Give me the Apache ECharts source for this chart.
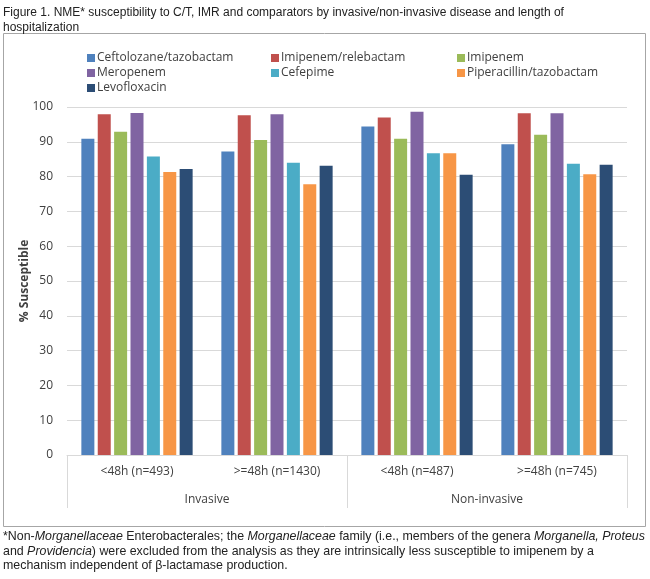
<!DOCTYPE html>
<html>
<head>
<meta charset="utf-8">
<script src="https://cdn.jsdelivr.net/npm/echarts@6/dist/echarts.min.js"></script>
<style>
  html, body { margin:0; padding:0; background:#fff; }
  #chart { width:650px; height:579px; }
</style>
</head>
<body>
<div id="chart"></div>
<script>
// ---------- data ----------
const groups = ['<48h (n=493)', '>=48h (n=1430)', '<48h (n=487)', '>=48h (n=745)'];
const outerGroups = ['Invasive', 'Non-invasive'];
const yTicks = { min: 0, max: 100, interval: 10 };

const drugs = ['Ceftolozane/tazobactam', 'Imipenem/relebactam', 'Imipenem', 'Meropenem',
  'Cefepime', 'Piperacillin/tazobactam', 'Levofloxacin'];
const ceftolozane = [90.9, 87.2, 94.4, 89.3];
const imiRelebactam = [97.9, 97.6, 97.0, 98.2];
const imipenem = [92.9, 90.5, 90.9, 92.0];
const meropenem = [98.3, 97.9, 98.6, 98.2];
const cefepime = [85.8, 84.0, 86.7, 83.7];
const piperacillin = [81.3, 77.8, 86.7, 80.7];
const levofloxacin = [82.2, 83.1, 80.5, 83.4];
const seriesValues = [ceftolozane, imiRelebactam, imipenem, meropenem, cefepime, piperacillin, levofloxacin];
const colors = ['#4F81BD', '#C0504D', '#9BBB59', '#8064A2', '#4BACC6', '#F79646', '#2C4D75'];

// ---------- chart ----------
const chart = echarts.init(document.getElementById('chart'), null, { renderer: 'canvas' });
const FONT = '"Open Sans", sans-serif';
const legendBase = {
  orient: 'vertical', top: 47, itemWidth: 8, itemHeight: 8, itemGap: 3,
  icon: 'rect', selectedMode: false,
  textStyle: { fontFamily: FONT, fontSize: 12, color: '#404040', padding: [0, 0, 0, -3] }
};

const option = {
  animation: false,
  color: colors,
  textStyle: { fontFamily: FONT },
  grid: { left: 67, right: 23, top: 107, bottom: 124, containLabel: false },
  legend: [
    { ...legendBase, left: 82, data: [drugs[0], drugs[3], drugs[6]] },
    { ...legendBase, left: 266, data: [drugs[1], drugs[4]] },
    { ...legendBase, left: 452, data: [drugs[2], drugs[5]] }
  ],
  xAxis: [
    {
      type: 'category', data: groups, position: 'bottom',
      axisLine: { lineStyle: { color: '#d9d9d9' } },
      axisTick: { show: false },
      axisLabel: { margin: 11, color: '#404040', fontSize: 12, fontFamily: FONT, interval: 0 }
    },
    {
      type: 'category', data: outerGroups, position: 'bottom',
      axisLine: { show: false },
      axisTick: { show: true, length: 53, lineStyle: { color: '#d9d9d9' } },
      axisLabel: { margin: 39, color: '#404040', fontSize: 12, fontFamily: FONT, interval: 0 }
    }
  ],
  yAxis: {
    type: 'value', ...yTicks,
    name: '% Susceptible', nameLocation: 'middle', nameGap: 36, nameRotate: 90,
    nameMoveOverlap: false,
    nameTextStyle: { fontWeight: 'bold', fontSize: 12, color: '#404040', fontFamily: FONT },
    axisLine: { show: false }, axisTick: { show: false },
    axisLabel: { margin: 14, color: '#404040', fontSize: 12, fontFamily: FONT },
    splitLine: { lineStyle: { color: '#d9d9d9' } }
  },
  series: drugs.map((name, i) => ({
    name, type: 'bar', xAxisIndex: 0, data: seriesValues[i],
    barWidth: 13, barGap: '26%'
  })),
  graphic: [
    {
      type: 'rect', silent: true, z: -1,
      shape: { x: 3.5, y: 33.5, width: 642, height: 493 },
      style: { fill: null, stroke: '#a6a6a6', lineWidth: 1 }
    },
    {
      type: 'text', left: 3, top: 5,
      style: {
        text: 'Figure 1. NME* susceptibility to C/T, IMR and comparators by invasive/non-invasive disease and length of\nhospitalization',
        font: '12px "Liberation Sans", Arial, sans-serif', fill: '#222', lineHeight: 15
      }
    },
    {
      type: 'text', left: 3, top: 531,
      style: {
        text: '{n|*Non-}{i|Morganellaceae}{n| Enterobacterales; the }{i|Morganellaceae}{n| family (i.e., members of the genera }{i|Morganella, Proteus}\n' +
              '{n|and }{i|Providencia}{n|) were excluded from the analysis as they are intrinsically less susceptible to imipenem by a}\n' +
              '{n|mechanism independent of β-lactamase production.}',
        rich: {
          n: { font: '12.4px "Liberation Sans", Arial, sans-serif', fill: '#222', lineHeight: 14.5 },
          i: { font: 'italic 12.4px "Liberation Sans", Arial, sans-serif', fill: '#222', lineHeight: 14.5 }
        }
      }
    }
  ]
};
chart.setOption(option);
</script>
</body>
</html>
